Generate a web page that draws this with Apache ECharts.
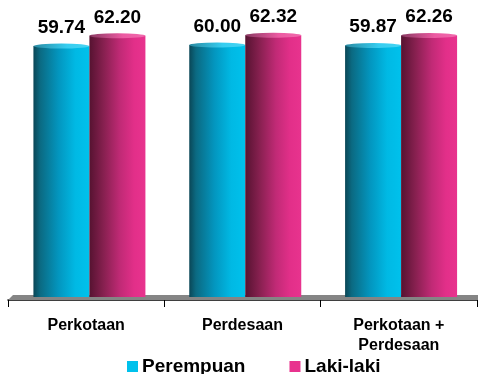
<!DOCTYPE html>
<html>
<head>
<meta charset="utf-8">
<script src="https://cdn.jsdelivr.net/npm/echarts@6/dist/echarts.min.js"></script>
<style>
  html, body { margin: 0; padding: 0; background: #ffffff; }
  #chart { width: 479px; height: 374px; }
</style>
</head>
<body>
<div id="chart"></div>
<script>
// Categories and values per series
var categories = ['Perkotaan', 'Perdesaan', 'Perkotaan +\nPerdesaan'];
var perempuan = [59.74, 60.00, 59.87];
var lakiLaki = [62.20, 62.32, 62.26];
var seriesNames = ['Perempuan', 'Laki-laki'];

var FONT = '"Liberation Sans", Arial, Helvetica, sans-serif';
// grid 0 carries the visible category axis; grid 1 holds the cylinders,
// nudged right to suggest the depth of the 3D floor
var GRID_AXIS = { left: 8, right: 2, top: 3, bottom: 74 };
var DEPTH = 3.5;
var GRID_BARS = { left: 8 + DEPTH, right: 2 - DEPTH, top: 3, bottom: 74 };
var BAR_W = 56;

function hGrad(stops) {
  return new echarts.graphic.LinearGradient(0, 0, 1, 0, stops.map(function (s) {
    return { offset: s[0], color: s[1] };
  }));
}

var cyanBody = hGrad([[0, '#0a4656'], [0.12, '#0b6a82'], [0.45, '#0396bf'], [0.75, '#00b9e4'], [1, '#00c1ec']]);
var pinkBody = hGrad([[0, '#561331'], [0.25, '#86204f'], [0.55, '#c12a76'], [0.8, '#e22f89'], [1, '#e8338e']]);
var cyanCap = hGrad([[0, '#2a8aa2'], [0.6, '#36cdf0'], [1, '#48d4f2']]);
var pinkCap = hGrad([[0, '#8a3a62'], [0.6, '#ec5aa2'], [1, '#f06aac']]);

var chart = echarts.init(document.getElementById('chart'), null, { renderer: 'canvas' });

var labelStyle = {
  show: true,
  position: 'top',
  distance: 9,
  fontFamily: FONT,
  fontWeight: 'bold',
  fontSize: 19,
  color: '#000000',
  formatter: function (p) { return p.value.toFixed(2); }
};

// Floor plate under the bars
var W = 479, H = 374;
var x0 = GRID_AXIS.left, x1 = W - GRID_AXIS.right, yb = H - GRID_AXIS.bottom;

var yAxisBase = { type: 'value', min: -0.7, max: 70, show: false, splitLine: { show: false } };

chart.setOption({
  backgroundColor: '#ffffff',
  animation: false,
  grid: [GRID_AXIS, GRID_BARS],
  legend: {
    left: 122,
    top: 352,
    itemWidth: 11,
    itemHeight: 11,
    itemGap: 44,
    icon: 'rect',
    data: [
      { name: seriesNames[0], itemStyle: { color: '#00c1ec' } },
      { name: seriesNames[1], itemStyle: { color: '#e8338e' } }
    ],
    textStyle: { fontFamily: FONT, fontWeight: 'bold', fontSize: 19, color: '#000000', padding: [0, 0, 0, -1] }
  },
  xAxis: [
    {
      gridIndex: 0,
      type: 'category',
      data: categories,
      boundaryGap: true,
      axisLine: { onZero: false, lineStyle: { color: '#000000', width: 1.5 } },
      axisTick: { show: true, length: 7, lineStyle: { color: '#000000', width: 1 } },
      axisLabel: {
        margin: 16,
        fontFamily: FONT,
        fontWeight: 'bold',
        fontSize: 16,
        lineHeight: 20,
        color: '#000000'
      }
    },
    {
      gridIndex: 1,
      type: 'category',
      data: categories,
      boundaryGap: true,
      show: false
    }
  ],
  yAxis: [
    Object.assign({ gridIndex: 0 }, yAxisBase),
    Object.assign({ gridIndex: 1 }, yAxisBase)
  ],
  graphic: [
    {
      type: 'polygon',
      z: 1,
      shape: { points: [[x0, yb], [x0 + 5, yb - 5], [x1 + 1, yb - 5], [x1 + 1, yb]] },
      style: { fill: '#858585' }
    }
  ],
  series: [
    {
      name: seriesNames[0],
      type: 'bar',
      xAxisIndex: 1,
      yAxisIndex: 1,
      data: perempuan,
      barWidth: BAR_W,
      barGap: '0%',
      z: 3,
      itemStyle: { color: cyanBody },
      label: labelStyle
    },
    {
      name: seriesNames[1],
      type: 'bar',
      xAxisIndex: 1,
      yAxisIndex: 1,
      data: lakiLaki,
      barWidth: BAR_W,
      barGap: '0%',
      z: 3,
      itemStyle: { color: pinkBody },
      label: labelStyle
    },
    {
      name: seriesNames[0],
      type: 'pictorialBar',
      xAxisIndex: 1,
      yAxisIndex: 1,
      data: perempuan,
      symbol: 'circle',
      symbolSize: [BAR_W, 5],
      symbolPosition: 'end',
      symbolOffset: ['-50%', '-50%'],
      z: 4,
      itemStyle: { color: cyanCap },
      label: { show: false },
      silent: true
    },
    {
      name: seriesNames[1],
      type: 'pictorialBar',
      xAxisIndex: 1,
      yAxisIndex: 1,
      data: lakiLaki,
      symbol: 'circle',
      symbolSize: [BAR_W, 5],
      symbolPosition: 'end',
      symbolOffset: ['50%', '-50%'],
      z: 4,
      itemStyle: { color: pinkCap },
      label: { show: false },
      silent: true
    }
  ]
});
</script>
</body>
</html>
